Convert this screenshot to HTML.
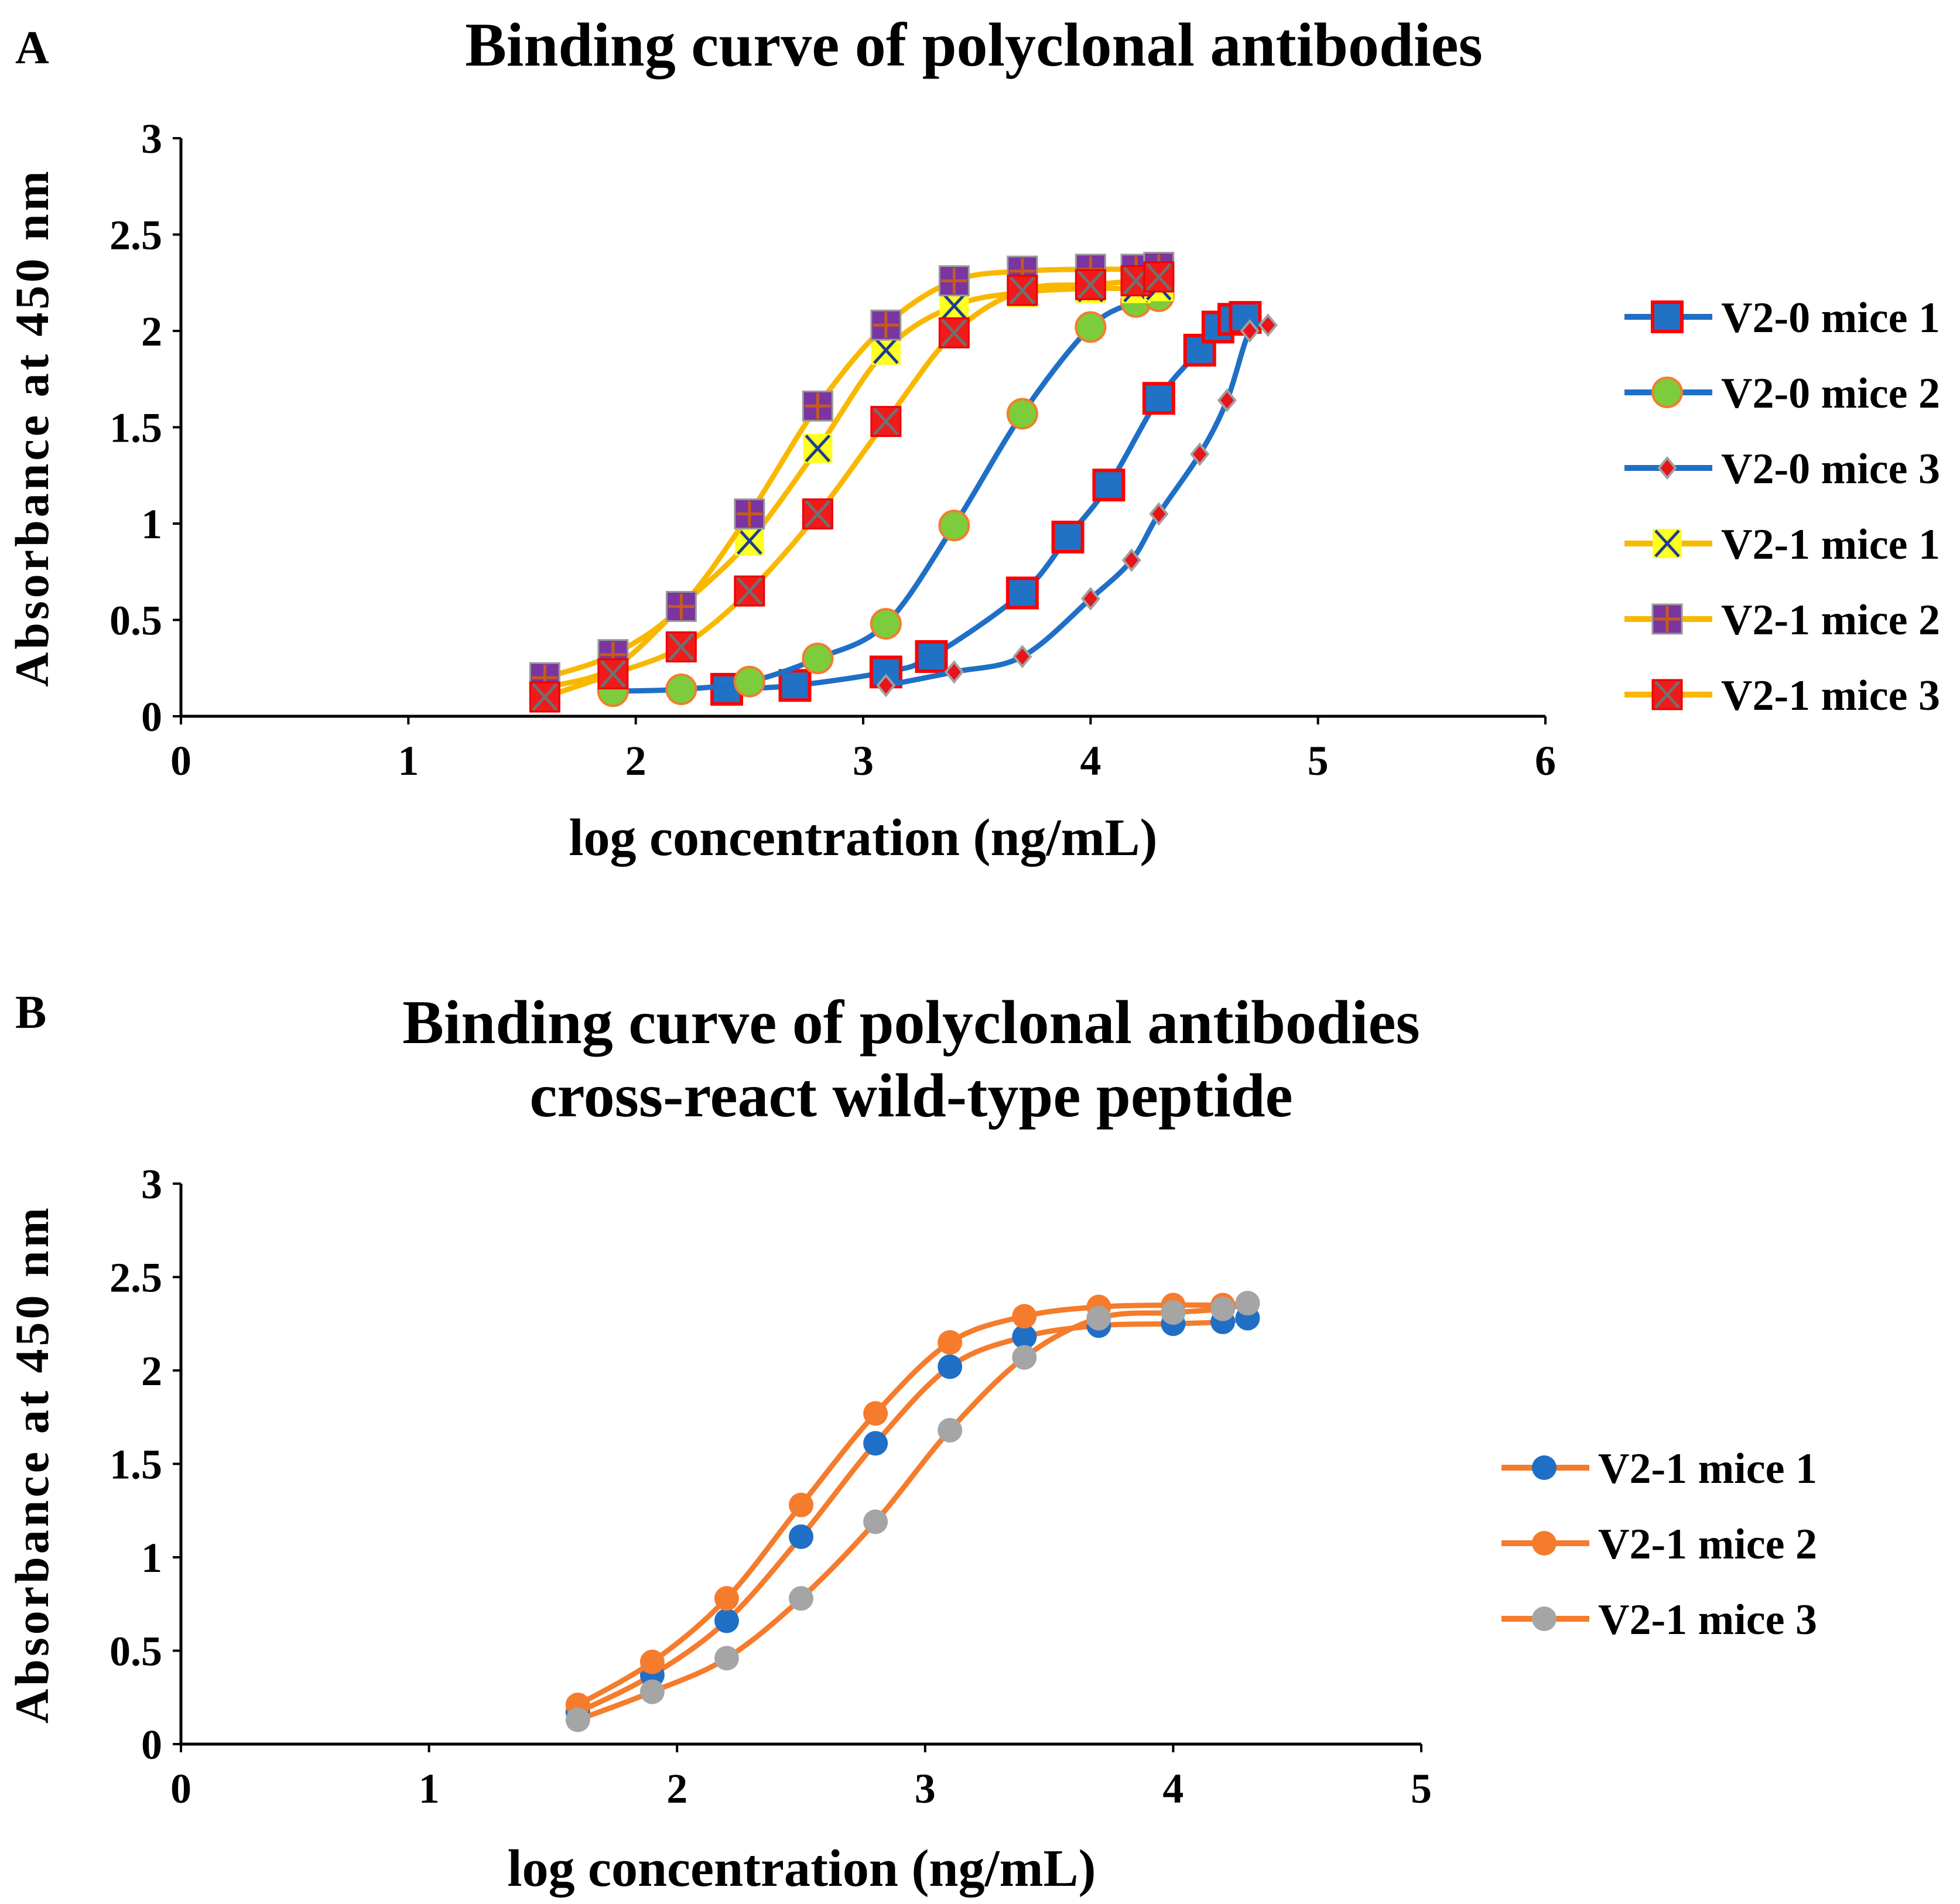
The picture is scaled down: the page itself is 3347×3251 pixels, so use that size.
<!DOCTYPE html>
<html><head><meta charset="utf-8"><style>
html,body{margin:0;padding:0;background:#fff}
svg{display:block}
text{font-family:"Liberation Serif",serif;font-weight:bold;fill:#000}
</style></head><body>
<svg id="s" width="3347" height="3251" viewBox="0 0 3347 3251">
<text x="26" y="108" font-size="80">A</text>
<text x="1663" y="112" font-size="106" text-anchor="middle">Binding curve of polyclonal antibodies</text>
<text x="26" y="1755" font-size="80">B</text>
<text x="1556" y="1781" font-size="106" text-anchor="middle">Binding curve of polyclonal antibodies</text>
<text x="1556" y="1906" font-size="106" text-anchor="middle">cross-react wild-type peptide</text>
<g id="ga"></g>
<g id="gb"></g>
</svg>
<script>
// ---- Chart A data ----
const aXTicks=[0,1,2,3,4,5,6];
const aYTicks=[0,0.5,1,1.5,2,2.5,3];
const aYTickLabels=["0","0.5","1","1.5","2","2.5","3"];
const aNames=["V2-0 mice 1","V2-0 mice 2","V2-0 mice 3","V2-1 mice 1","V2-1 mice 2","V2-1 mice 3"];
const a1x=[2.4,2.7,3.1,3.3,3.7,3.9,4.08,4.3,4.48,4.56,4.63,4.68];
const a1y=[0.14,0.16,0.23,0.31,0.64,0.93,1.2,1.65,1.9,2.02,2.06,2.07];
const a2x=[1.9,2.2,2.5,2.8,3.1,3.4,3.7,4.0,4.2,4.3];
const a2y=[0.13,0.14,0.18,0.30,0.48,0.99,1.57,2.02,2.15,2.18];
const a3x=[3.1,3.4,3.7,4.0,4.18,4.3,4.48,4.6,4.7,4.78];
const a3y=[0.16,0.23,0.31,0.61,0.81,1.05,1.36,1.64,2.0,2.03];
const a4x=[1.6,1.9,2.2,2.5,2.8,3.1,3.4,3.7,4.0,4.2,4.3];
const a4y=[0.15,0.25,0.57,0.91,1.39,1.90,2.13,2.2,2.22,2.22,2.23];
const a5x=[1.6,1.9,2.2,2.5,2.8,3.1,3.4,3.7,4.0,4.2,4.3];
const a5y=[0.2,0.32,0.57,1.05,1.61,2.03,2.26,2.31,2.32,2.32,2.33];
const a6x=[1.6,1.9,2.2,2.5,2.8,3.1,3.4,3.7,4.0,4.2,4.3];
const a6y=[0.1,0.22,0.36,0.65,1.05,1.53,1.99,2.21,2.24,2.26,2.28];
// ---- Chart B data ----
const bXTicks=[0,1,2,3,4,5];
const bYTicks=[0,0.5,1,1.5,2,2.5,3];
const bNames=["V2-1 mice 1","V2-1 mice 2","V2-1 mice 3"];
const bx=[1.6,1.9,2.2,2.5,2.8,3.1,3.4,3.7,4.0,4.2,4.3];
const b1y=[0.17,0.37,0.66,1.11,1.61,2.02,2.18,2.24,2.25,2.26,2.28];
const b2y=[0.21,0.44,0.78,1.28,1.77,2.15,2.29,2.34,2.35,2.35,2.36];
const b3y=[0.13,0.28,0.46,0.78,1.19,1.68,2.07,2.28,2.31,2.33,2.36];

const NS="http://www.w3.org/2000/svg";
function mk(p,tag,at){const e=document.createElementNS(NS,tag);for(const k in at)e.setAttribute(k,at[k]);p.appendChild(e);return e;}
function smooth(pts){let d="M"+pts[0][0]+","+pts[0][1];
 for(let i=0;i<pts.length-1;i++){const p0=pts[Math.max(0,i-1)],p1=pts[i],p2=pts[i+1],p3=pts[Math.min(pts.length-1,i+2)];
  const c1=[p1[0]+(p2[0]-p0[0])/6,p1[1]+(p2[1]-p0[1])/6],c2=[p2[0]-(p3[0]-p1[0])/6,p2[1]-(p3[1]-p1[1])/6];
  d+=" C"+c1+" "+c2+" "+p2;}return d;}
function marker(g,type,cx,cy){
 const s=25;
 if(type==="sqB"){mk(g,"rect",{x:cx-s,y:cy-s,width:2*s,height:2*s,fill:"#2172c4",stroke:"#f00",'stroke-width':6});}
 else if(type==="circG"){mk(g,"circle",{cx,cy,r:25,fill:"#7ccc3c",stroke:"#f47c2c",'stroke-width':4});}
 else if(type==="dia"){mk(g,"path",{d:`M${cx},${cy-17}L${cx+14},${cy}L${cx},${cy+17}L${cx-14},${cy}Z`,fill:"#e8131b",stroke:"#a0a0a0",'stroke-width':4});}
 else if(type==="xY"){mk(g,"rect",{x:cx-s,y:cy-s,width:2*s,height:2*s,fill:"#ffff20"});mk(g,"path",{d:`M${cx-20},${cy-22}L${cx+20},${cy+22}M${cx+20},${cy-22}L${cx-20},${cy+22}`,stroke:"#1a3f8c",'stroke-width':5});}
 else if(type==="sqP"){mk(g,"rect",{x:cx-s,y:cy-s,width:2*s,height:2*s,fill:"#7a35a0",stroke:"#9a9a9a",'stroke-width':3});mk(g,"path",{d:`M${cx},${cy-22}L${cx},${cy+22}M${cx-22},${cy}L${cx+22},${cy}`,stroke:"#c85a1a",'stroke-width':5});}
 else if(type==="sqX"){mk(g,"rect",{x:cx-s,y:cy-s,width:2*s,height:2*s,fill:"#f01a1a",stroke:"#e00",'stroke-width':3});mk(g,"path",{d:`M${cx-20},${cy-22}L${cx+20},${cy+22}M${cx+20},${cy-22}L${cx-20},${cy+22}`,stroke:"#707070",'stroke-width':5});}
 else {mk(g,"circle",{cx,cy,r:21,fill:type});}
}
function axes(g,X,Y,xt,yt,x0,x1,y0,y1){
 const ax=mk(g,"g",{});
 mk(ax,"line",{x1:x0,y1:y0,x2:x1,y2:y0,stroke:"#000",'stroke-width':5});
 mk(ax,"line",{x1:x0,y1:y0,x2:x0,y2:y1,stroke:"#000",'stroke-width':5});
 xt.forEach(v=>{const x=X(v);mk(ax,"line",{x1:x,y1:y0,x2:x,y2:y0+14,stroke:"#000",'stroke-width':4});
  const t=mk(ax,"text",{x,y:y0+100,'font-size':72,'text-anchor':'middle'});t.textContent=v;
  });
 yt.forEach((v,i)=>{const y=Y(v);mk(ax,"line",{x1:x0-14,y1:y,x2:x0,y2:y,stroke:"#000",'stroke-width':4});
  const t=mk(ax,"text",{x:x0-32,y:y+25,'font-size':72,'text-anchor':'end'});t.textContent=aYTickLabels[i];
  });
}
function yTitle(g,cx,cy){const t=mk(g,"text",{x:0,y:0,'font-size':82,'text-anchor':'middle','letter-spacing':5,transform:`translate(${cx},${cy}) rotate(-90)`});t.textContent="Absorbance at 450 nm";
 }
function xTitle(g,cx,cy){const t=mk(g,"text",{x:cx,y:cy,'font-size':90,'text-anchor':'middle'});t.textContent="log concentration (ng/mL)";
 }
function series(g,X,Y,xs,ys,color,mtype,name){
 const sg=mk(g,"g",{});
 const pts=xs.map((x,i)=>[X(x),Y(ys[i])]);
 const p=mk(sg,"path",{d:smooth(pts),fill:"none",stroke:color,'stroke-width':9});
 
 pts.forEach(pt=>marker(sg,mtype,pt[0],pt[1]));
}
function legend(g,x,y,color,mtype,label){
 const lg=mk(g,"g",{});
 mk(lg,"line",{x1:x,y1:y,x2:x+150,y2:y,stroke:color,'stroke-width':10});
 marker(lg,mtype,x+73,y);
 const t=mk(lg,"text",{x:x+165,y:y+26,'font-size':74});t.textContent=label;
}
// Chart A
const ga=document.getElementById('ga');
const AX=v=>309+v*(2639-309)/6, AY=v=>1223-v*(1223-236)/3;
axes(ga,AX,AY,aXTicks,aYTicks,309,2639,1223,236);
yTitle(ga,82,730);xTitle(ga,1474,1460);
const aCols=["#1f6fc6","#1f6fc6","#1f6fc6","#f9b800","#f9b800","#f9b800"];
const aM=["sqB","circG","dia","xY","sqP","sqX"];
const aXs=[a1x,a2x,a3x,a4x,a5x,a6x],aYs=[a1y,a2y,a3y,a4y,a5y,a6y];
aXs.forEach((xs,i)=>series(ga,AX,AY,xs,aYs[i],aCols[i],aM[i],"series-a-"+(i+1)));
aNames.forEach((n,i)=>legend(ga,2774,541+i*129,aCols[i],aM[i],n));
// Chart B
const gb=document.getElementById('gb');
const BX=v=>309+v*(2427-309)/5, BY=v=>2978-v*(2978-2021)/3;
axes(gb,BX,BY,bXTicks,bYTicks,309,2427,2978,2021);
yTitle(gb,82,2500);xTitle(gb,1369,3220);
const bM=["#1f6fc6","#f47c2c","#a5a5a5"];
[b1y,b2y,b3y].forEach((ys,i)=>series(gb,BX,BY,bx,ys,"#f47c2c",bM[i],"series-b-"+(i+1)));
bNames.forEach((n,i)=>legend(gb,2564,2506+i*129,"#f47c2c",bM[i],n));
</script>
</body></html>
